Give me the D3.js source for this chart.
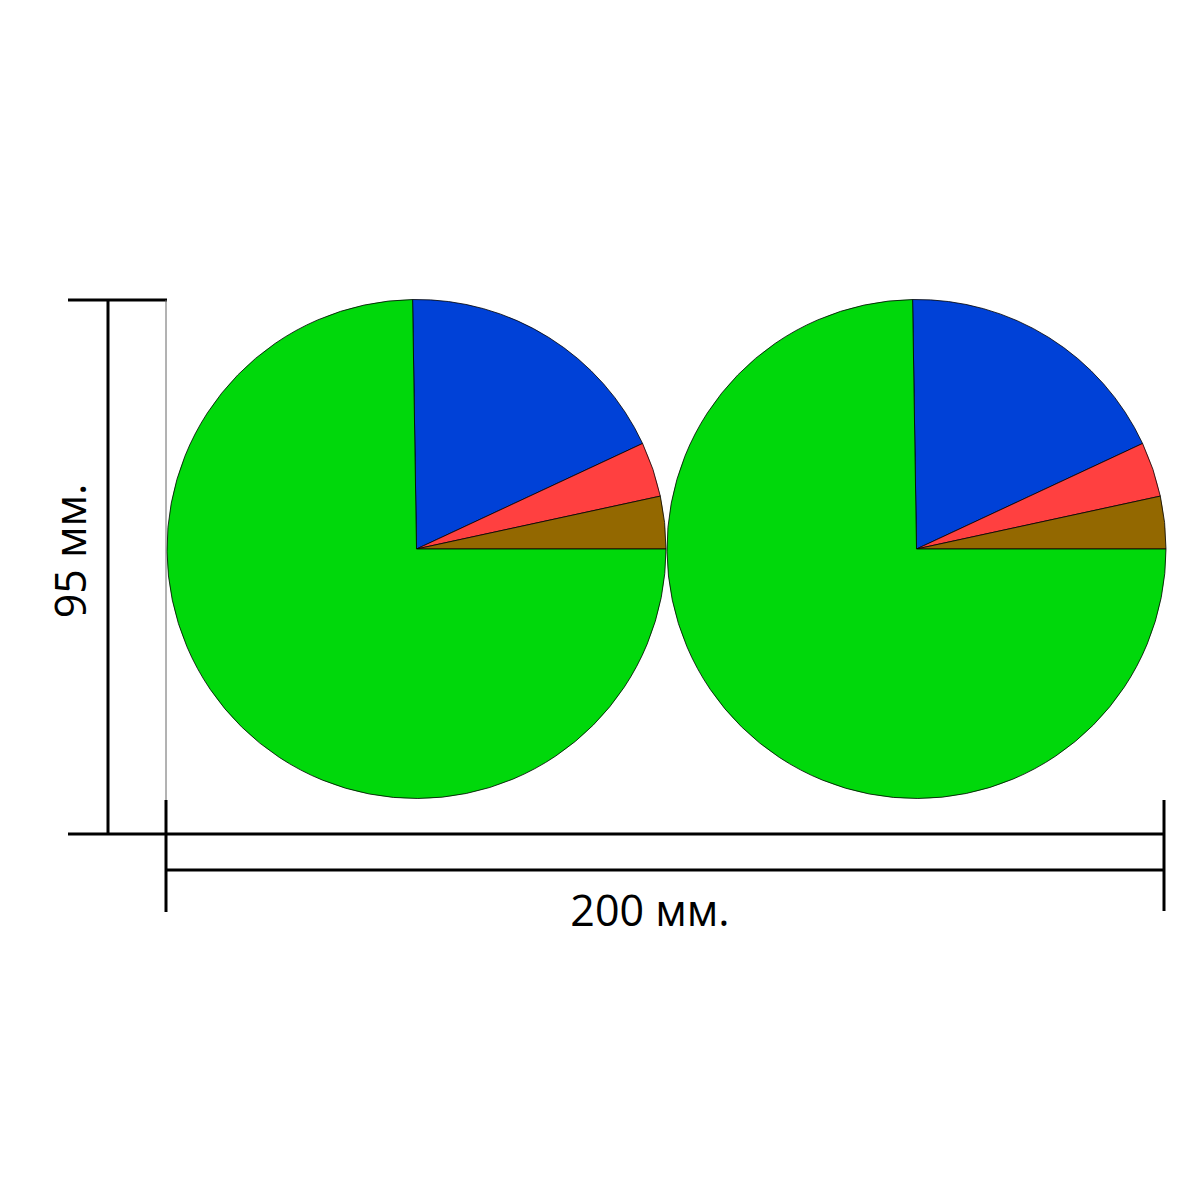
<!DOCTYPE html>
<html>
<head>
<meta charset="utf-8">
<script src="https://cdn.jsdelivr.net/npm/d3@7"></script>
<style>
html,body{margin:0;padding:0;background:#fff;}
svg{display:block;}
</style>
</head>
<body>
<svg id="chart" width="1200" height="1200"></svg>
<script>
// Data
const categories = ["Синий", "Красный", "Коричневый", "Зелёный"];
const values = [18.3, 3.55, 3.4, 74.75];
const colors = ["#0041d7", "#ff4040", "#936800", "#00d80b"];
const pieCount = [0, 1];
const widthLabel = "200 мм.";
const heightLabel = "95 мм.";

const svg = d3.select("#chart");

const radius = 249.5;
const cy = 549;
const x = d3.scaleLinear().domain([0, 1]).range([416.5, 916.5]);

const pie = d3.pie().sort(null).value(d => d)
  .startAngle(-0.9 * Math.PI / 180)
  .endAngle(2 * Math.PI - 0.9 * Math.PI / 180);
const arc = d3.arc().innerRadius(0).outerRadius(radius);

pieCount.forEach(i => {
  const g = svg.append("g").attr("transform", `translate(${x(i)},${cy})`);
  g.selectAll("path").data(pie(values)).join("path")
    .attr("d", arc)
    .attr("fill", (d, j) => colors[j])
    .attr("stroke", "#000")
    .attr("stroke-width", 0.8);
});

// Dimension lines
const line = (x1, y1, x2, y2, w, c) => svg.append("line")
  .attr("x1", x1).attr("y1", y1).attr("x2", x2).attr("y2", y2)
  .attr("stroke", c || "#000").attr("stroke-width", w);

// vertical dimension (95 mm)
line(68, 300, 167, 300, 3);
line(68, 834, 166, 834, 3);
line(108, 300, 108, 834, 3);
line(166, 300, 166, 800, 1, "#666");

// horizontal dimension (200 mm)
line(166, 834, 1164, 834, 3);
line(166, 870, 1164, 870, 3);
line(166, 800, 166, 912, 3);
line(1164, 800, 1164, 911, 3);

svg.append("text")
  .attr("x", 650).attr("y", 926)
  .attr("text-anchor", "middle")
  .attr("font-family", "'Open Sans', sans-serif")
  .attr("font-size", 43)
  .attr("fill", "#000")
  .text(widthLabel);

svg.append("text")
  .attr("transform", "translate(86,551) rotate(-90)")
  .attr("text-anchor", "middle")
  .attr("font-family", "'Open Sans', sans-serif")
  .attr("font-size", 43)
  .attr("fill", "#000")
  .text(heightLabel);
</script>
</body>
</html>
